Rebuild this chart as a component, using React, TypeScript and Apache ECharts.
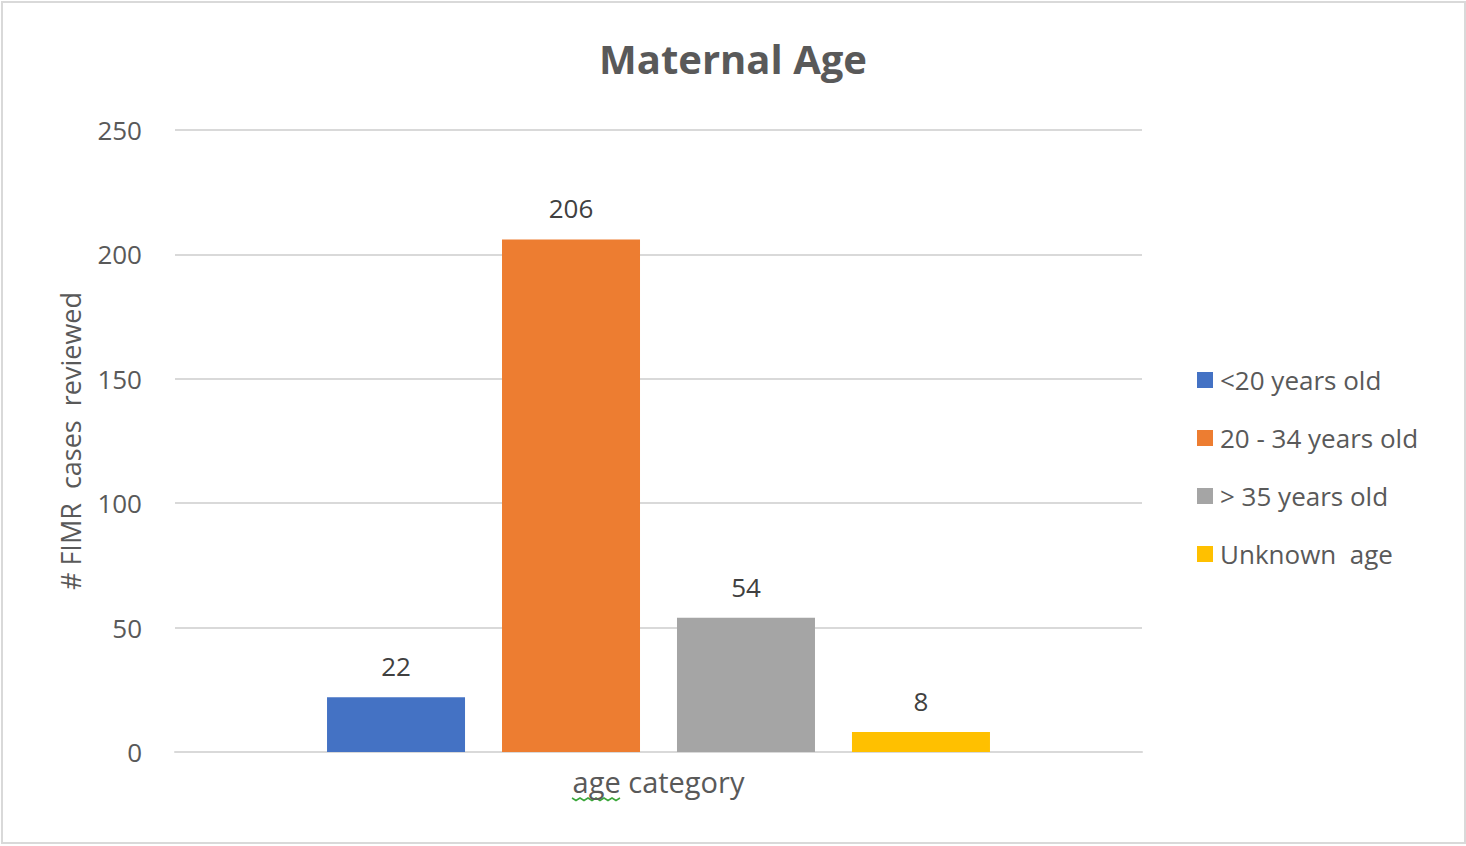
import React, { useEffect, useRef } from "react";
import * as echarts from "echarts";

const categories = ["age category"];
const seriesNames = ["<20 years old", "20 - 34 years old", "> 35 years old", "Unknown  age"];
const seriesValues = [22, 206, 54, 8];
const seriesColors = ["#4472C4", "#ED7D31", "#A5A5A5", "#FFC000"];
const yTicks = { min: 0, max: 250, interval: 50 };

const FONT = "'Open Sans', sans-serif";
const TEXT = "#595959";

export default function App() {
  const ref = useRef<HTMLDivElement>(null);
  useEffect(() => {
    if (!ref.current) return;
    const chart = echarts.init(ref.current, null, { renderer: "svg" });
    const squiggle: number[][] = [];
    for (let i = 0; i <= 12; i++) {
      squiggle.push([572 + i * 4, 798 + (i % 2 === 0 ? 0 : 2.5)]);
    }
    chart.setOption({
      animation: false,
      backgroundColor: "#ffffff",
      textStyle: { fontFamily: FONT },
      title: {
        text: "Maternal Age",
        left: "center",
        top: 33,
        textStyle: { fontFamily: FONT, fontSize: 40, fontWeight: "bold", color: TEXT },
      },
      grid: { left: 175, right: 324, top: 130, bottom: 94 },
      legend: {
        orient: "vertical",
        left: 1192,
        top: 360,
        itemWidth: 16,
        itemHeight: 16,
        itemGap: 28,
        icon: "rect",
        data: seriesNames,
        textStyle: { fontFamily: FONT, fontSize: 26, color: TEXT, lineHeight: 30, padding: [0, 0, 0, 2] },
      },
      xAxis: {
        type: "category",
        data: categories,
        axisTick: { show: false },
        axisLabel: { show: false },
        axisLine: { lineStyle: { color: "#d9d9d9", width: 2 } },
        name: categories[0],
        nameLocation: "middle",
        nameGap: 15,
        nameTextStyle: { fontFamily: FONT, fontSize: 29, color: TEXT },
      },
      yAxis: {
        type: "value",
        min: yTicks.min,
        max: yTicks.max,
        interval: yTicks.interval,
        axisLine: { show: false },
        axisTick: { show: false },
        splitLine: { lineStyle: { color: "#d9d9d9", width: 2 } },
        axisLabel: { fontFamily: FONT, fontSize: 26, color: TEXT, margin: 33 },
        name: "# FIMR  cases  reviewed",
        nameLocation: "middle",
        nameGap: 91,
        nameTextStyle: { fontFamily: FONT, fontSize: 27, color: TEXT },
      },
      series: seriesNames.map((name, i) => ({
        name,
        type: "bar",
        data: [seriesValues[i]],
        barWidth: 138,
        barGap: "26.8%",
        itemStyle: { color: seriesColors[i] },
        label: {
          show: true,
          position: "top",
          distance: 18,
          fontFamily: FONT,
          fontSize: 26,
          color: "#404040",
        },
      })),
      graphic: [
        {
          type: "rect",
          shape: { x: 2, y: 2, width: 1463, height: 841 },
          style: { fill: "none", stroke: "#d9d9d9", lineWidth: 2 },
          silent: true,
        },
        {
          type: "polyline",
          shape: { points: squiggle },
          style: { fill: "none", stroke: "#3aa63a", lineWidth: 1.5 },
          silent: true,
        },
      ],
    });
    return () => chart.dispose();
  }, []);
  return (
    <div
      ref={ref}
      style={{ position: "fixed", left: 0, top: 0, width: 1466, height: 846 }}
    />
  );
}
